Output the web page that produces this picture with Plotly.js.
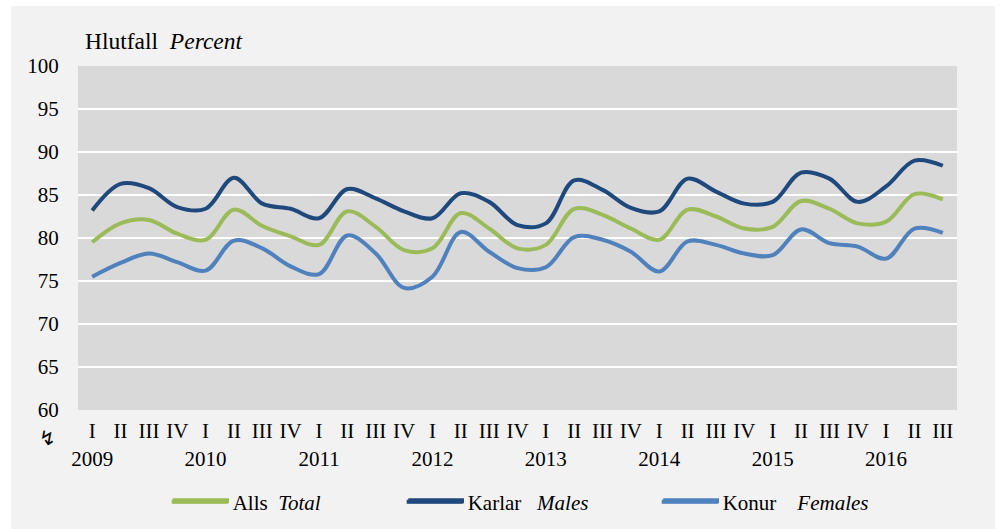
<!DOCTYPE html>
<html>
<head>
<meta charset="utf-8">
<script src="https://cdn.plot.ly/plotly-3.0.1.min.js"></script>
<style>html,body{margin:0;padding:0;background:#fff;}#chart{width:1000px;height:529px;}</style>
</head>
<body>
<div id="chart"></div>
<script>
// Data (quarterly, 2009 Q1 – 2016 Q3), percent
const years = ['2009','2010','2011','2012','2013','2014','2015','2016'];
const quarters = ['I','II','III','IV'];
const nPoints = 31;

const total = [79.5, 81.7, 82.1, 80.5, 79.8, 83.3, 81.4, 80.2,
               79.2, 83.1, 81.3, 78.6, 78.8, 82.9, 81.1, 78.8,
               79.2, 83.4, 82.7, 81.1, 79.8, 83.3, 82.5, 81.1,
               81.3, 84.3, 83.4, 81.7, 81.9, 85.1, 84.5];
const males = [83.2, 86.3, 85.8, 83.6, 83.4, 87.0, 84.0, 83.4,
               82.3, 85.7, 84.6, 83.1, 82.3, 85.2, 84.2, 81.5,
               81.7, 86.7, 85.6, 83.5, 83.1, 86.9, 85.4, 84.0,
               84.2, 87.6, 86.9, 84.2, 86.0, 89.0, 88.4];
const females = [75.5, 77.1, 78.2, 77.2, 76.2, 79.7, 78.8, 76.7,
                 75.8, 80.3, 78.2, 74.2, 75.5, 80.7, 78.4, 76.5,
                 76.6, 80.1, 79.8, 78.4, 76.1, 79.6, 79.2, 78.2,
                 78.0, 81.0, 79.4, 79.0, 77.6, 81.1, 80.6];

const seriesNames = ['Alls&nbsp;&nbsp;<i>Total</i>',
                     'Karlar&nbsp;&nbsp;&nbsp;<i>Males</i>',
                     'Konur&nbsp;&nbsp;&nbsp;&nbsp;<i>Females</i>'];
const seriesColors = ['#9bbb59', '#1f497d', '#4f81bd'];

// Build categories and tick labels
const categories = [];
const tickText = [];
for (let i = 0; i < nPoints; i++) {
  const y = years[Math.floor(i / 4)];
  const q = quarters[i % 4];
  categories.push(y + ' ' + q);
  tickText.push(q === 'I' ? q + '<br>' + y : q);
}

const FONT = '"Liberation Serif", "Times New Roman", serif';
const dataSets = [total, males, females];
const legendIds = ['legend', 'legend2', 'legend3'];
const traces = dataSets.map((vals, k) => ({
  type: 'scatter', mode: 'lines',
  x: categories, y: vals, name: seriesNames[k],
  line: {color: seriesColors[k], width: 4, shape: 'spline', smoothing: 1},
  legend: legendIds[k],
  hoverinfo: 'x+y'
}));

const L = 78, R = 957, T = 66, B = 410, W = 1000, H = 529;
const px = v => (v - L) / (R - L);
const py = v => (B - v) / (B - T);

const legendBase = {
  orientation: 'h', yanchor: 'middle', xanchor: 'left',
  xref: 'container', yref: 'container', y: (H - 502) / H,
  font: {family: FONT, size: 21, color: '#000'}, bgcolor: 'rgba(0,0,0,0)',
  itemwidth: 56
};
const legendTextX = [231.7, 466.7, 721.7];
const legendLineX = [[172.7, 229], [408.3, 464], [663.3, 719]];

const shapes = [
  // white outer frame strips
  {type: 'rect', xref: 'paper', yref: 'paper', x0: px(0), x1: px(11), y0: py(H), y1: py(0), fillcolor: '#fff', line: {width: 0}, layer: 'above'},
  {type: 'rect', xref: 'paper', yref: 'paper', x0: px(0), x1: px(W), y0: py(6), y1: py(0), fillcolor: '#fff', line: {width: 0}, layer: 'above'},
  {type: 'rect', xref: 'paper', yref: 'paper', x0: px(995), x1: px(W), y0: py(H), y1: py(0), fillcolor: '#fff', line: {width: 0}, layer: 'above'}
];
// longer legend key lines (Excel style)
legendLineX.forEach((p, k) => shapes.push({
  type: 'line', xref: 'paper', yref: 'paper', x0: px(p[0]), x1: px(p[1]), y0: py(500.7), y1: py(500.7),
  line: {color: seriesColors[k], width: 5}, layer: 'above'
}));

const layout = {
  width: W, height: H,
  margin: {l: L, r: W - R, t: T, b: H - B, pad: 0, autoexpand: false},
  paper_bgcolor: '#f2f2f2',
  plot_bgcolor: '#d9d9d9',
  font: {family: FONT, size: 21, color: '#000'},
  showlegend: true,
  legend: Object.assign({}, legendBase, {x: (legendTextX[0] - 65) / W}),
  legend2: Object.assign({}, legendBase, {x: (legendTextX[1] - 65) / W}),
  legend3: Object.assign({}, legendBase, {x: (legendTextX[2] - 65) / W}),
  xaxis: {
    type: 'category',
    categoryorder: 'array', categoryarray: categories,
    range: [-0.5, nPoints - 0.5],
    tickmode: 'array', tickvals: categories, ticktext: tickText,
    showgrid: false, zeroline: false, showline: false,
    ticks: 'outside', ticklen: 2, tickcolor: 'rgba(0,0,0,0)',
    tickangle: 0,
    tickfont: {family: FONT, size: 21, color: '#000'},
    fixedrange: true
  },
  yaxis: {
    range: [60, 100], dtick: 5, tick0: 60,
    showgrid: true, gridcolor: '#ffffff', gridwidth: 2.5,
    zeroline: false, showline: false,
    ticks: 'outside', ticklen: 14, tickcolor: 'rgba(0,0,0,0)',
    tickfont: {family: FONT, size: 21, color: '#000'},
    fixedrange: true
  },
  shapes: shapes,
  annotations: [
    {xref: 'paper', yref: 'paper', x: px(83), y: py(41), xanchor: 'left', yanchor: 'middle',
     text: 'Hlutfall&nbsp;&nbsp;<i>Percent</i>', showarrow: false,
     font: {family: FONT, size: 23.5, color: '#000'}},
    {xref: 'paper', yref: 'paper', x: px(47), y: py(438), xanchor: 'center', yanchor: 'middle',
     text: '↯', showarrow: false, font: {family: 'DejaVu Sans', size: 20, color: '#000'}}
  ]
};

Plotly.newPlot('chart', traces, layout, {displayModeBar: false, staticPlot: true});
</script>
</body>
</html>
